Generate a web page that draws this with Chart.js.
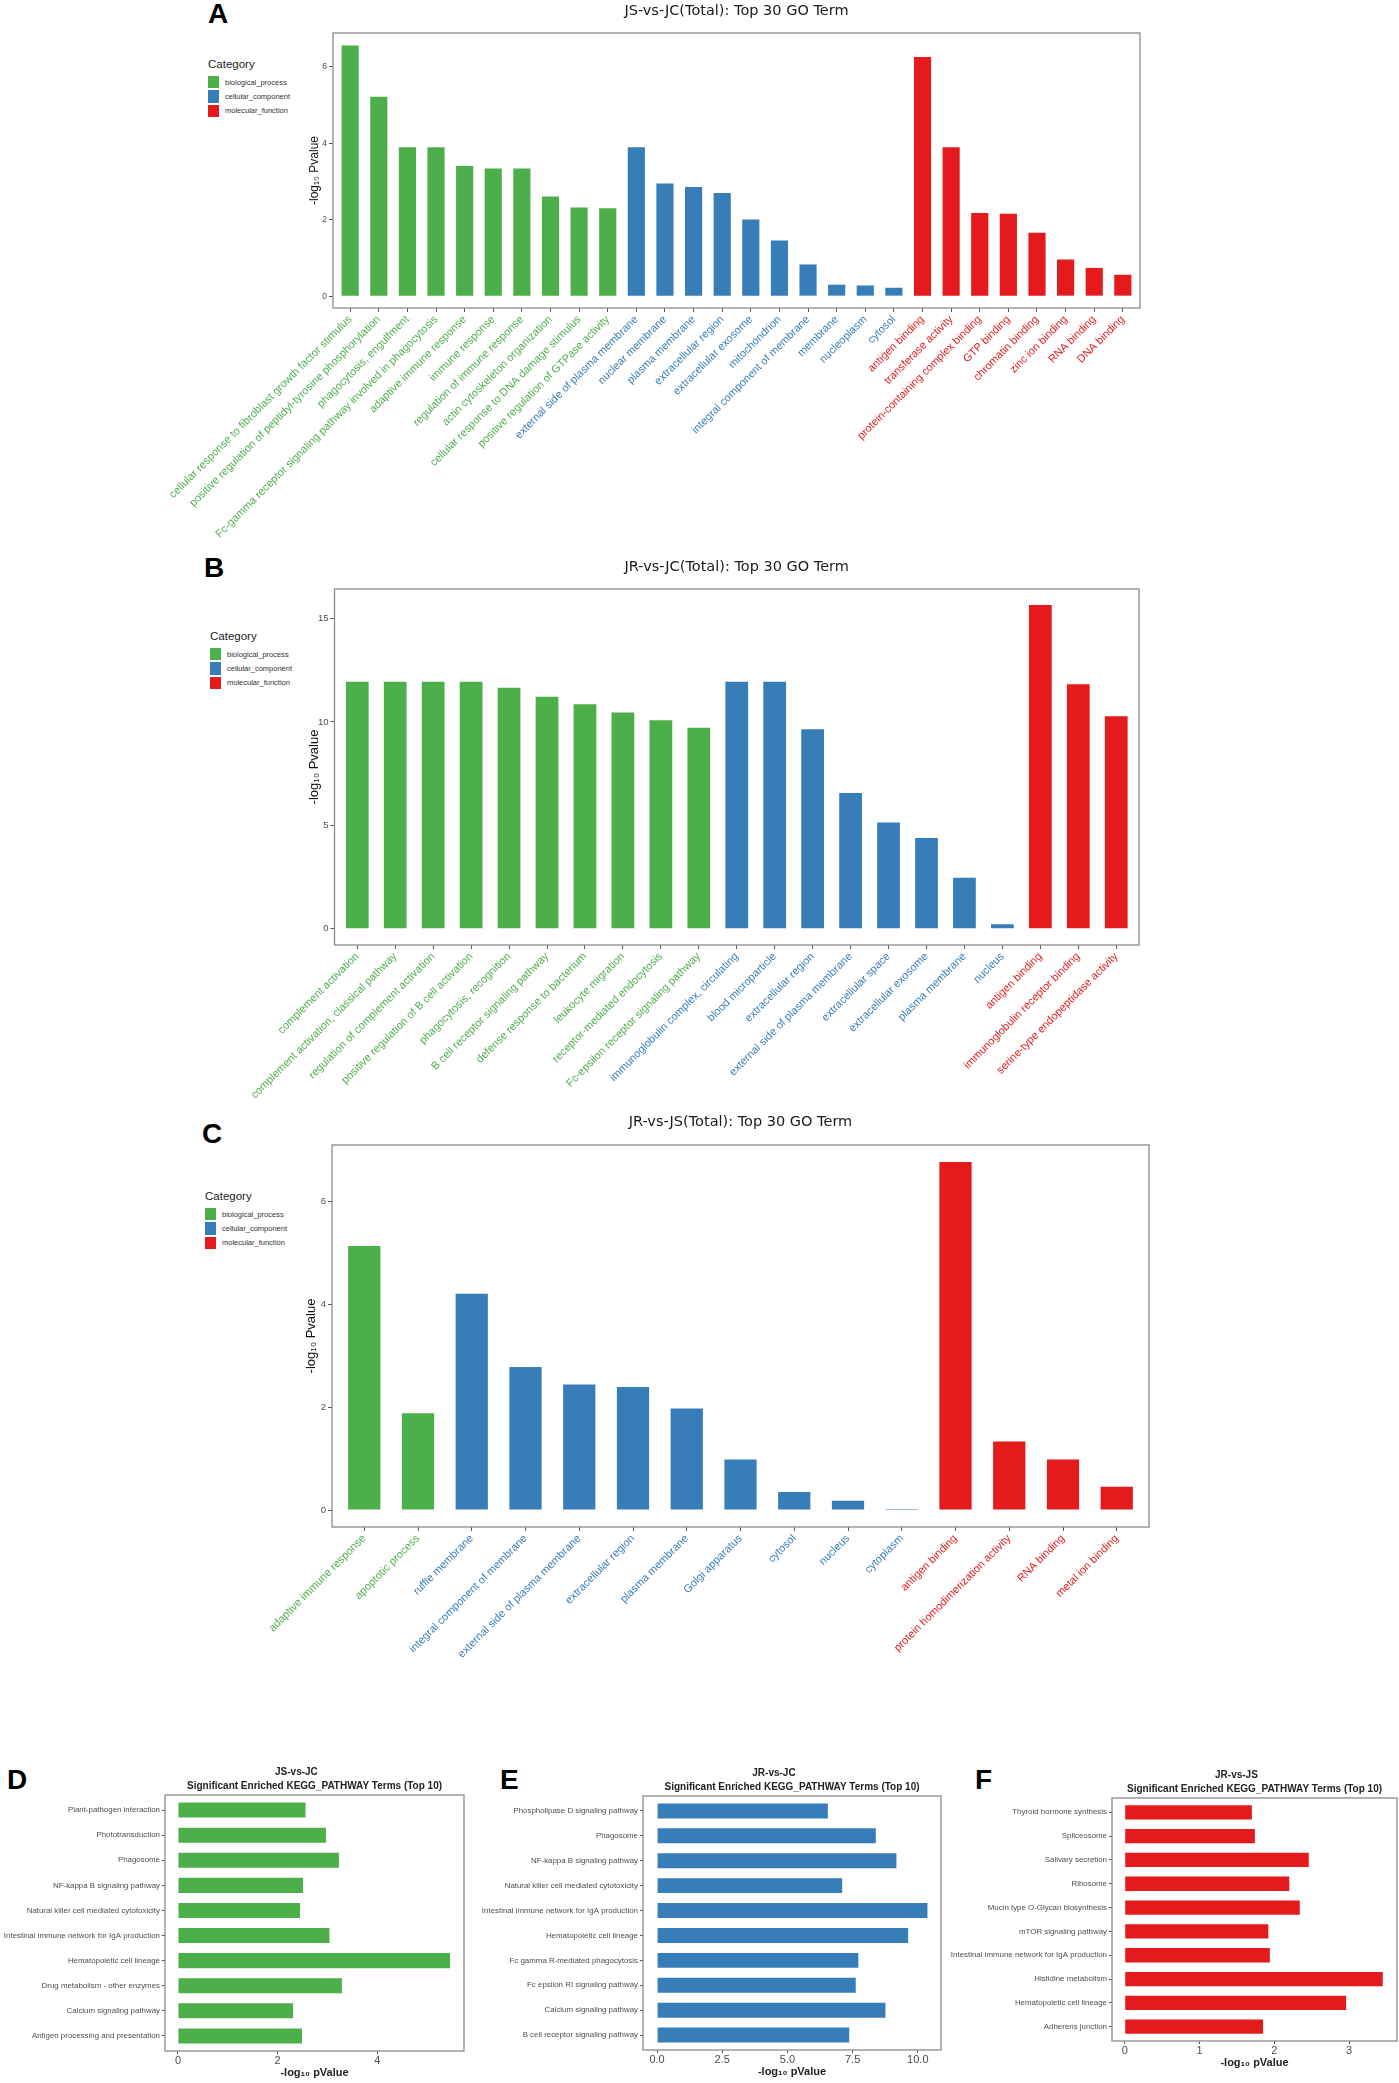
<!DOCTYPE html>
<html>
<head>
<meta charset="utf-8">
<script src="https://cdn.jsdelivr.net/npm/chart.js@4.4.1/dist/chart.umd.min.js"></script>
<style>
  html, body { margin: 0; padding: 0; background: #fff; }
  #page { position: relative; width: 1399px; height: 2083px; overflow: hidden; font-family: "Liberation Sans", Arial, sans-serif; }
  canvas { position: absolute; }
  .letter { position: absolute; font: bold 28px/28px "Liberation Sans", Arial, sans-serif; color: #000; }
  .legend { position: absolute; color: #222; }
  .legend .ttl { font-size: 11.5px; line-height: 14px; margin-bottom: 4px; }
  .legend .item { display: flex; align-items: center; height: 14.4px; font-size: 7.5px; color: #333; }
  .legend .sw { width: 11px; height: 12.5px; margin-right: 6px; }
</style>
</head>
<body>
<div id="page">
  <div class="letter" style="left:208px;top:0px">A</div>
  <div class="letter" style="left:204px;top:554px">B</div>
  <div class="letter" style="left:202px;top:1120px">C</div>
  <div class="letter" style="left:7px;top:1766px">D</div>
  <div class="letter" style="left:500px;top:1766px">E</div>
  <div class="letter" style="left:975px;top:1766px">F</div>

  <div class="legend" id="legA" style="left:208px;top:57px"></div>
  <div class="legend" id="legB" style="left:210px;top:629px"></div>
  <div class="legend" id="legC" style="left:205px;top:1189px"></div>

  <canvas id="chartA" width="1020" height="560" style="left:140px;top:0px"></canvas>
  <canvas id="chartB" width="1020" height="560" style="left:140px;top:550px"></canvas>
  <canvas id="chartC" width="1020" height="560" style="left:140px;top:1110px"></canvas>
  <canvas id="chartD" width="470" height="323" style="left:0px;top:1760px"></canvas>
  <canvas id="chartE" width="480" height="323" style="left:470px;top:1760px"></canvas>
  <canvas id="chartF" width="449" height="323" style="left:950px;top:1760px"></canvas>
</div>

<script>
// categorias GO
const goCategories = ["biological_process", "cellular_component", "molecular_function"];
const catColors = { bp: "#4DAF4A", cc: "#377EB8", mf: "#E41A1C" };

// A: JS-vs-JC
const goTermsA = [
  "cellular response to fibroblast growth factor stimulus",
  "positive regulation of peptidyl-tyrosine phosphorylation",
  "phagocytosis, engulfment",
  "Fc-gamma receptor signaling pathway involved in phagocytosis",
  "adaptive immune response",
  "immune response",
  "regulation of immune response",
  "actin cytoskeleton organization",
  "cellular response to DNA damage stimulus",
  "positive regulation of GTPase activity",
  "external side of plasma membrane",
  "nuclear membrane",
  "plasma membrane",
  "extracellular region",
  "extracellular exosome",
  "mitochondrion",
  "integral component of membrane",
  "membrane",
  "nucleoplasm",
  "cytosol",
  "antigen binding",
  "transferase activity",
  "protein-containing complex binding",
  "GTP binding",
  "chromatin binding",
  "zinc ion binding",
  "RNA binding",
  "DNA binding"
];
const goValuesA = [6.56, 5.22, 3.90, 3.90, 3.41, 3.34, 3.34, 2.61, 2.32, 2.30,
                   3.90, 2.95, 2.86, 2.70, 2.01, 1.46, 0.83, 0.30, 0.28, 0.22,
                   6.26, 3.90, 2.18, 2.16, 1.66, 0.96, 0.74, 0.56];
const goGroupsA = ["bp", "bp", "bp", "bp", "bp", "bp", "bp", "bp", "bp", "bp",
                   "cc", "cc", "cc", "cc", "cc", "cc", "cc", "cc", "cc", "cc",
                   "mf", "mf", "mf", "mf", "mf", "mf", "mf", "mf"];
const yTicksA = [0, 2, 4, 6];

// B: JR-vs-JC
const goTermsB = [
  "complement activation",
  "complement activation, classical pathway",
  "regulation of complement activation",
  "positive regulation of B cell activation",
  "phagocytosis, recognition",
  "B cell receptor signaling pathway",
  "defense response to bacterium",
  "leukocyte migration",
  "receptor-mediated endocytosis",
  "Fc-epsilon receptor signaling pathway",
  "immunoglobulin complex, circulating",
  "blood microparticle",
  "extracellular region",
  "external side of plasma membrane",
  "extracellular space",
  "extracellular exosome",
  "plasma membrane",
  "nucleus",
  "antigen binding",
  "immunoglobulin receptor binding",
  "serine-type endopeptidase activity"
];
const goValuesB = [11.94, 11.94, 11.94, 11.94, 11.65, 11.22, 10.86, 10.46, 10.08, 9.72,
                   11.94, 11.94, 9.65, 6.56, 5.14, 4.39, 2.46, 0.21,
                   15.66, 11.82, 10.28];
const goGroupsB = ["bp", "bp", "bp", "bp", "bp", "bp", "bp", "bp", "bp", "bp",
                   "cc", "cc", "cc", "cc", "cc", "cc", "cc", "cc",
                   "mf", "mf", "mf"];
const yTicksB = [0, 5, 10, 15];

// C: JR-vs-JS
const goTermsC = [
  "adaptive immune response",
  "apoptotic process",
  "ruffle membrane",
  "integral component of membrane",
  "external side of plasma membrane",
  "extracellular region",
  "plasma membrane",
  "Golgi apparatus",
  "cytosol",
  "nucleus",
  "cytoplasm",
  "antigen binding",
  "protein homodimerization activity",
  "RNA binding",
  "metal ion binding"
];
const goValuesC = [5.13, 1.88, 4.20, 2.78, 2.44, 2.39, 1.97, 0.98, 0.35, 0.18, 0.02,
                   6.76, 1.33, 0.98, 0.45];
const goGroupsC = ["bp", "bp", "cc", "cc", "cc", "cc", "cc", "cc", "cc", "cc", "cc",
                   "mf", "mf", "mf", "mf"];
const yTicksC = [0, 2, 4, 6];

// KEGG D / E / F
const keggTermsD = ["Plant-pathogen interaction", "Phototransduction", "Phagosome",
  "NF-kappa B signaling pathway", "Natural killer cell mediated cytotoxicity",
  "Intestinal immune network for IgA production", "Hematopoietic cell lineage",
  "Drug metabolism - other enzymes", "Calcium signaling pathway",
  "Antigen processing and presentation"];
const keggValuesD = [2.56, 2.97, 3.23, 2.51, 2.45, 3.04, 5.46, 3.29, 2.31, 2.49];
const xTicksD = [0, 2, 4];
const xTickLabelsD = ["0", "2", "4"];

const keggTermsE = ["Phospholipase D signaling pathway", "Phagosome",
  "NF-kappa B signaling pathway", "Natural killer cell mediated cytotoxicity",
  "Intestinal immune network for IgA production", "Hematopoietic cell lineage",
  "Fc gamma R-mediated phagocytosis", "Fc epsilon RI signaling pathway",
  "Calcium signaling pathway", "B cell receptor signaling pathway"];
const keggValuesE = [6.55, 8.39, 9.18, 7.10, 10.37, 9.63, 7.72, 7.62, 8.76, 7.37];
const xTicksE = [0, 2.5, 5, 7.5, 10];
const xTickLabelsE = ["0.0", "2.5", "5.0", "7.5", "10.0"];

const keggTermsF = ["Thyroid hormone synthesis", "Spliceosome", "Salivary secretion",
  "Ribosome", "Mucin type O-Glycan biosynthesis", "mTOR signaling pathway",
  "Intestinal immune network for IgA production", "Histidine metabolism",
  "Hematopoietic cell lineage", "Adherens junction"];
const keggValuesF = [1.70, 1.74, 2.46, 2.20, 2.34, 1.92, 1.94, 3.45, 2.96, 1.85];
const xTicksF = [0, 1, 2, 3];
const xTickLabelsF = ["0", "1", "2", "3"];

Chart.defaults.font.family = "'Liberation Sans', Arial, sans-serif";
Chart.defaults.animation = false;

// moldura cinza em volta da área do gráfico
const panelBorder = {
  id: "panelBorder",
  afterDraw(chart) {
    const { ctx, chartArea: a } = chart;
    ctx.save();
    ctx.strokeStyle = "#8a8a8a";
    ctx.lineWidth = 1.3;
    ctx.strokeRect(a.left, a.top, a.right - a.left, a.bottom - a.top);
    ctx.restore();
  }
};

function fillLegend(id) {
  const box = document.getElementById(id);
  const keys = ["bp", "cc", "mf"];
  let html = '<div class="ttl">Category</div>';
  goCategories.forEach((name, i) => {
    html += `<div class="item"><span class="sw" style="background:${catColors[keys[i]]}"></span>${name}</div>`;
  });
  box.innerHTML = html;
}

function goChart(id, terms, values, groups, yTicks, L) {
  new Chart(document.getElementById(id), {
    type: "bar",
    data: {
      datasets: [{
        data: values.map((v, i) => ({ x: i, y: v })),
        backgroundColor: groups.map(g => catColors[g]),
        barPercentage: 0.6,
        categoryPercentage: 1
      }]
    },
    options: {
      responsive: false,
      layout: { padding: { left: L.padL, right: L.padR, top: 0, bottom: 0 } },
      plugins: {
        legend: { display: false },
        tooltip: { enabled: false },
        title: {
          display: true, text: L.title, fullSize: false, color: "#1a1a1a",
          font: { family: "'DejaVu Sans', sans-serif", size: 14.5, weight: "normal", lineHeight: 1.2 },
          padding: { top: L.tTop, bottom: L.tBot }
        }
      },
      scales: {
        x: {
          type: "linear", min: -0.6, max: terms.length - 0.4, offset: false, bounds: "data",
          afterBuildTicks: s => { s.ticks = terms.map((t, i) => ({ value: i })); },
          afterFit: s => { s.height = L.xH; },
          grid: { display: true, offset: false, drawOnChartArea: false, drawTicks: true, tickLength: 4, color: "#555" },
          border: { display: false },
          ticks: {
            autoSkip: false, minRotation: 45, maxRotation: 45, padding: 1,
            font: { size: L.labelSize },
            color: c => catColors[groups[c.index]],
            callback: (v, i) => terms[i]
          }
        },
        y: {
          min: L.yMin, max: L.yMax, bounds: "data",
          afterBuildTicks: s => { s.ticks = yTicks.map(v => ({ value: v })); },
          afterFit: s => { s.width = L.yW; },
          grid: { display: true, drawOnChartArea: false, drawTicks: true, tickLength: 4, color: "#555" },
          border: { display: false },
          ticks: { padding: 2, color: "#4d4d4d", font: { size: L.tickSize } },
          title: { display: true, text: "-log₁₀ Pvalue", color: "#111", font: { size: L.yTitleSize }, padding: { top: 4, bottom: 2 } }
        }
      }
    },
    plugins: [panelBorder]
  });
}

function keggChart(id, terms, values, color, xTicks, xLabels, L) {
  new Chart(document.getElementById(id), {
    type: "bar",
    data: {
      datasets: [{
        data: values.map((v, i) => ({ x: v, y: i })),
        backgroundColor: color,
        barPercentage: 0.6,
        categoryPercentage: 1
      }]
    },
    options: {
      indexAxis: "y",
      responsive: false,
      layout: { padding: { left: 0, right: L.padR, top: 0, bottom: L.padB } },
      plugins: {
        legend: { display: false },
        tooltip: { enabled: false },
        title: {
          display: true, text: L.title, fullSize: false, color: "#222",
          font: { size: 10, weight: "bold", lineHeight: 1.45 },
          padding: { top: L.tTop, bottom: L.tBot }
        }
      },
      scales: {
        y: {
          type: "linear", reverse: true, min: -0.6, max: terms.length - 0.4, offset: false, bounds: "data",
          afterBuildTicks: s => { s.ticks = terms.map((t, i) => ({ value: i })); },
          afterFit: s => { s.width = L.yW; },
          grid: { display: true, offset: false, drawOnChartArea: false, drawTicks: true, tickLength: 3, color: "#555" },
          border: { display: false },
          ticks: { autoSkip: false, padding: 2, color: "#4d4d4d", font: { size: 7.9 }, callback: (v, i) => terms[i] }
        },
        x: {
          min: L.xMin, max: L.xMax, bounds: "data",
          afterBuildTicks: s => { s.ticks = xTicks.map(v => ({ value: v })); },
          afterFit: s => { s.height = L.xH; },
          grid: { display: true, drawOnChartArea: false, drawTicks: true, tickLength: 3, color: "#555" },
          border: { display: false },
          ticks: { padding: 0, color: "#4d4d4d", font: { size: 11 }, maxRotation: 0, callback: (v, i) => xLabels[i] },
          title: { display: true, text: "-log₁₀ pValue", color: "#222", font: { size: 11, weight: "bold", lineHeight: 1.2 }, padding: { top: 0, bottom: 0 } }
        }
      }
    },
    plugins: [panelBorder]
  });
}

fillLegend("legA");
fillLegend("legB");
fillLegend("legC");

goChart("chartA", goTermsA, goValuesA, goGroupsA, yTicksA, {
  title: "JS-vs-JC(Total): Top 30 GO Term", padL: 163, padR: 20, yW: 30, xH: 252,
  tTop: 2.3, tBot: 13.3, yMin: -0.31, yMax: 6.89, labelSize: 11, tickSize: 8.5, yTitleSize: 12
});
goChart("chartB", goTermsB, goValuesB, goGroupsB, yTicksB, {
  title: "JR-vs-JC(Total): Top 30 GO Term", padL: 162.5, padR: 21, yW: 32, xH: 165,
  tTop: 8.3, tBot: 13.3, yMin: -0.79, yMax: 16.43, labelSize: 11, tickSize: 9.5, yTitleSize: 13
});
goChart("chartC", goTermsC, goValuesC, goGroupsC, yTicksC, {
  title: "JR-vs-JS(Total): Top 30 GO Term", padL: 160, padR: 11, yW: 32, xH: 143,
  tTop: 3.8, tBot: 13.8, yMin: -0.33, yMax: 7.09, labelSize: 11, tickSize: 9.5, yTitleSize: 13
});

const keggSub = "Significant Enriched KEGG_PATHWAY Terms (Top 10)";
keggChart("chartD", keggTermsD, keggValuesD, catColors.bp, xTicksD, xTickLabelsD, {
  title: ["JS-vs-JC             ", keggSub], yW: 165, padR: 6, padB: 3, xH: 29,
  tTop: 4.5, tBot: 1.5, xMin: -0.26, xMax: 5.74
});
keggChart("chartE", keggTermsE, keggValuesE, catColors.cc, xTicksE, xTickLabelsE, {
  title: ["JR-vs-JC             ", keggSub], yW: 173, padR: 9, padB: 4, xH: 29,
  tTop: 5.5, tBot: 1.5, xMin: -0.54, xMax: 10.89
});
keggChart("chartF", keggTermsF, keggValuesF, catColors.mf, xTicksF, xTickLabelsF, {
  title: ["JR-vs-JS             ", keggSub], yW: 162, padR: 2, padB: 13, xH: 29,
  tTop: 7.5, tBot: 1.5, xMin: -0.17, xMax: 3.64
});
</script>
</body>
</html>
